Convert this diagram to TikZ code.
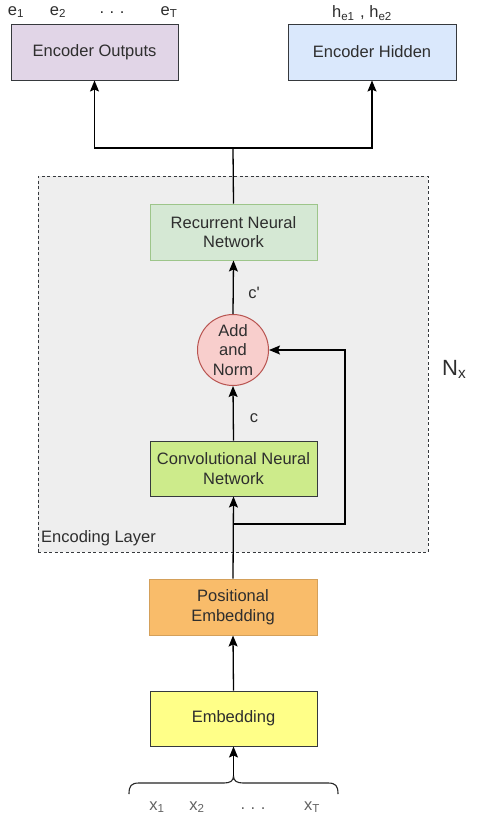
\documentclass[tikz,border=0pt]{standalone}
\usepackage{fontspec}
\setmainfont{Liberation Sans}
\usetikzlibrary{arrows.meta,positioning}
\definecolor{txt}{HTML}{2E2E2E}
\definecolor{edge}{HTML}{36393D}
\definecolor{eofill}{HTML}{E1D5E7}
\definecolor{ehfill}{HTML}{DAE8FC}
\definecolor{rnnfill}{HTML}{D5E8D4}
\definecolor{rnnedge}{HTML}{9DC58A}
\definecolor{addfill}{HTML}{F8CECC}
\definecolor{addedge}{HTML}{B85450}
\definecolor{cnnfill}{HTML}{CDEB8B}
\definecolor{pefill}{HTML}{F9BC6A}
\definecolor{embfill}{HTML}{FFFF88}
\definecolor{layerfill}{HTML}{EEEEEE}
\tikzset{
  box/.style={draw=edge, line width=1pt, rectangle, minimum width=167pt, minimum height=56pt,
    align=center, text=txt, font=\fontsize{16.5}{19.5}\selectfont, inner sep=2pt},
  addnode/.style={draw=addedge, fill=addfill, line width=1pt, circle, minimum size=71pt,
    align=center, text=txt, font=\fontsize{16.5}{19.5}\selectfont, inner sep=0pt},
  arr/.style={draw=black, line width=1.3pt, -{Stealth[length=11pt,width=9pt,inset=2pt]}},
  ln/.style={draw=black, line width=1.3pt},
  lbl/.style={text=txt, font=\fontsize{16.5}{19.5}\selectfont, inner sep=0pt},
}
\begin{document}
\begin{tikzpicture}[x=1pt,y=-1pt]
\useasboundingbox (0,0) rectangle (480,822);
\fill[white] (0,0) rectangle (480,822);
% encoding layer container
\node[draw=edge, fill=layerfill, dash pattern=on 3pt off 2.5pt, line width=0.9pt, rectangle,
  minimum width=390pt, minimum height=376pt, inner sep=0pt] (layer) at (233,364) {};
\node[lbl, anchor=west] (layerlbl) at (41,538) {Encoding Layer};
\node[lbl, anchor=west, font=\fontsize{22}{24}\selectfont] (nx) at (442,369) {N\textsubscript{x}};
% boxes
\node[box, fill=eofill] (eo) at (94.5,52) {Encoder Outputs};
\node[box, fill=ehfill, minimum width=168pt] (eh) at (372,52) {Encoder Hidden};
\node[box, fill=rnnfill, draw=rnnedge] (rnn) at (233.5,232) {Recurrent Neural\\Network};
\node[addnode] (add) at (233,350) {Add\\and\\Norm};
\node[box, fill=cnnfill, minimum height=55pt] (cnn) at (233.5,468.5) {Convolutional Neural\\Network};
\node[box, fill=pefill, draw=pefill!85!black, minimum width=168pt] (pe) at (233,607) {Positional\\Embedding};
\node[box, fill=embfill, minimum height=55pt] (emb) at (233.5,718.5) {Embedding};
% output labels
\node[lbl] (e1) at (16,12) {e\textsubscript{1}};
\node[lbl] (e2) at (58,12) {e\textsubscript{2}};
\node[lbl] (edots) at (112,13) {.\,\,.\,\,.};
\node[lbl] (eT) at (169,12) {e\textsubscript{T}};
\node[lbl] (he) at (362,13) {h\textsubscript{e1}\,\,, h\textsubscript{e2}};
% input labels
\node[lbl, text=txt!75] (x1) at (157,807) {x\textsubscript{1}};
\node[lbl, text=txt!75] (x2) at (197,807) {x\textsubscript{2}};
\node[lbl, text=txt!75] (xdots) at (253,809) {.\,\,.\,\,.};
\node[lbl, text=txt!75] (xT) at (312,807) {x\textsubscript{T}};
% edge labels
\node[lbl] (cp) at (254,293) {c\textquotesingle};
\node[lbl] (c) at (254,418) {c};
% coordinates
\coordinate (split) at (233,148);
\coordinate (fb) at (233,524);
\coordinate (fbr) at (345,524);
\coordinate (tip) at (233.5,776);
% brace
\draw[ln, line width=1.1pt, draw=black!85] (129,794) .. controls (129,786) and (131,783) .. (139,783)
  -- (224,783) .. controls (230,783) and (233.5,781) .. (tip)
  .. controls (233.5,781) and (237,783) .. (243,783)
  -- (328,783) .. controls (336,783) and (338,786) .. (338,794);
% connectors
\draw[ln] (rnn.north) -- (split);
\draw[arr] (split) -| (eo.south);
\draw[arr] (split) -| (eh.south);
\draw[arr] (add.north) -- (rnn.south);
\draw[arr] (cnn.north) -- (add.south);
\draw[arr] (pe.north) -- (cnn.south);
\draw[arr] (fb) -- (fbr) |- (add.east);
\draw[arr] (emb.north) -- (pe.south);
\draw[arr] (tip) -- (emb.south);
\end{tikzpicture}
\end{document}
